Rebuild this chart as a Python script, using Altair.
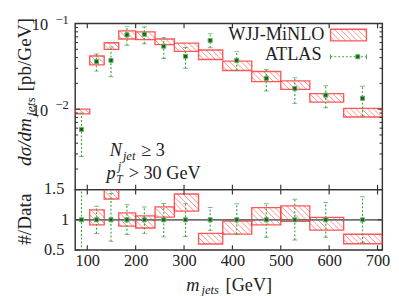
import altair as alt
import numpy as np
import pandas as pd

# ---------------- data ----------------
bin_lo = [75, 105, 135, 165, 200, 240, 280, 330, 380, 440, 500, 560, 630]
bin_hi = [105, 135, 165, 200, 240, 280, 330, 380, 440, 500, 560, 630, 710]
minlo_lo = [0.0088, 0.0329, 0.0499, 0.0660, 0.0649, 0.0567, 0.0474, 0.0380, 0.0283, 0.0210, 0.0170, 0.0121, 0.0081]
minlo_hi = [0.0100, 0.0418, 0.0597, 0.0822, 0.0800, 0.0660, 0.0591, 0.0491, 0.0364, 0.0275, 0.0214, 0.0152, 0.0102]
atlas_x = [88, 119, 149, 182, 218, 258, 303, 354, 409, 470, 529, 593, 669]
atlas_y = [0.0058, 0.0359, 0.0371, 0.0737, 0.0750, 0.0543, 0.0414, 0.0633, 0.0371, 0.0229, 0.0174, 0.0146, 0.0134]
atlas_lo = [0.0028, 0.0278, 0.0239, 0.0557, 0.0582, 0.0390, 0.0300, 0.0520, 0.0283, 0.0163, 0.0116, 0.0104, 0.0083]
atlas_hi = [0.0090, 0.0440, 0.0533, 0.0920, 0.0910, 0.0689, 0.0525, 0.0762, 0.0470, 0.0290, 0.0233, 0.0188, 0.0185]

x_ticks = [100, 200, 300, 400, 500, 600, 700]
y_major = [0.01, 0.1]
y_minor = [0.002, 0.003, 0.004, 0.005, 0.006, 0.007, 0.008, 0.009,
           0.02, 0.03, 0.04, 0.05, 0.06, 0.07, 0.08, 0.09]
ylab_vals = [0.1, 0.01]
ylab_base = ["10", "10"]
ylab_exp = ["\u22121", "\u22122"]
ratio_ticks = [0.5, 1.0, 1.5]
ratio_lab_outer = [0.5, 1.5]
ratio_lab_outer_txt = ["0.5", "1.5"]
ratio_lab_inner = [1.0]
ratio_lab_inner_txt = ["1"]

# ---------------- layout / style ----------------
W, HT, HR = 320, 173, 63
X_DOM = [75, 710]
YT_DOM = [0.00115, 0.1]
YR_DOM = [0.5, 1.5]
LEFT_ABS = 67.3
MID_ABS = 187.7
TOP_ABS = MID_ABS - HT

FONT = "Liberation Serif"
TXT = "#222222"
AXC = "#333333"
RED = "#ff3b3b"
HATCH = "#ff8c8c"
GREEN = "#3f9f3f"
PT_FILL = "#1e5e1e"
PT_STROKE = "#62b862"


def rx(a):
    return a - LEFT_ABS


def ry(a):
    return a - TOP_ABS


def rb(a):
    return a - MID_ABS


XS = alt.Scale(domain=X_DOM, nice=False, zero=False)
YTS = alt.Scale(type="log", domain=YT_DOM, nice=False)
YRS = alt.Scale(domain=YR_DOM, nice=False, zero=False)

GEV_PER_PX = (X_DOM[1] - X_DOM[0]) / W
PX_PER_DEC = HT / (np.log10(YT_DOM[1]) - np.log10(YT_DOM[0]))
PX_PER_RATIO = HR / (YR_DOM[1] - YR_DOM[0])


def clipped_lines(xlo, xhi, ys, ye, d, step, anchor=0.0):
    """diagonal lines going from (x0, ys) to (x0+d, ye), clipped to [xlo, xhi]"""
    out = []
    k0 = int(np.floor((xlo - d - anchor) / step))
    k1 = int(np.ceil((xhi - anchor) / step))
    for k in range(k0, k1 + 1):
        x0 = anchor + k * step
        xa, ya, xb, yb = x0, ys, x0 + d, ye
        if xa < xlo:
            f = (xlo - x0) / d
            xa, ya = xlo, ys + f * (ye - ys)
        if xb > xhi:
            f = (xhi - x0) / d
            xb, yb = xhi, ys + f * (ye - ys)
        if xb - xa > 0.3 * step / 6:
            out.append((xa, ya, xb, yb))
    return out


# boxes
box_top = pd.DataFrame({"xlo": bin_lo, "xhi": bin_hi, "lo": minlo_lo, "hi": minlo_hi})
ratio_lo = [a / d for a, d in zip(minlo_lo, atlas_y)]
ratio_hi = [a / d for a, d in zip(minlo_hi, atlas_y)]
box_rat = pd.DataFrame({"xlo": bin_lo, "xhi": bin_hi, "lo": ratio_lo, "hi": ratio_hi})

# hatching built from the box arrays
rows = []
step = 6 * GEV_PER_PX
for xl, xh, lo, hi in zip(bin_lo, bin_hi, minlo_lo, minlo_hi):
    tl, th = np.log10(lo), np.log10(hi)
    d = (th - tl) * PX_PER_DEC * GEV_PER_PX
    for xa, ya, xb, yb in clipped_lines(xl, xh, th, tl, d, step):
        rows.append({"x1": xa, "y1": 10 ** ya, "x2": xb, "y2": 10 ** yb})
hatch_top = pd.DataFrame(rows)

rows = []
for xl, xh, lo, hi in zip(bin_lo, bin_hi, ratio_lo, ratio_hi):
    d = (hi - lo) * PX_PER_RATIO * GEV_PER_PX
    for xa, ya, xb, yb in clipped_lines(xl, xh, hi, lo, d, step):
        rows.append({"x1": xa, "y1": ya, "x2": xb, "y2": yb})
hatch_rat = pd.DataFrame(rows)

pts_top = pd.DataFrame({"x": atlas_x, "y": atlas_y, "lo": atlas_lo, "hi": atlas_hi})
pts_rat = pd.DataFrame({"x": atlas_x,
                        "y": [1.0] * len(atlas_x),
                        "lo": [l / d for l, d in zip(atlas_lo, atlas_y)],
                        "hi": [h / d for h, d in zip(atlas_hi, atlas_y)]})

one = pd.DataFrame({"k": [0]})


def txt(text, x, y, size=19, italic=False, align="left", baseline="alphabetic", angle=None):
    kw = dict(text=text, align=align, baseline=baseline, font=FONT, fontSize=size, color=TXT)
    if italic:
        kw["fontStyle"] = "italic"
    if angle is not None:
        kw["angle"] = angle
    return alt.Chart(one).mark_text(**kw).encode(x=alt.value(x), y=alt.value(y))


def prule(x1, y1, x2, y2, color, width=1.0, dash=None):
    kw = dict(color=color, strokeWidth=width)
    if dash:
        kw["strokeDash"] = dash
    return alt.Chart(one).mark_rule(**kw).encode(
        x=alt.value(x1), y=alt.value(y1), x2=alt.value(x2), y2=alt.value(y2))


def panel_layers(box_df, hatch_df, pts_df, yscale, xaxis, H):
    X = lambda f: alt.X(f"{f}:Q", scale=XS, axis=xaxis)
    Y = lambda f: alt.Y(f"{f}:Q", scale=yscale, axis=None)
    L = []
    L.append(alt.Chart(hatch_df).mark_rule(color=HATCH, strokeWidth=1, clip=True).encode(
        x=X("x1"), x2="x2", y=Y("y1"), y2="y2"))
    L.append(alt.Chart(box_df).mark_rect(fillOpacity=0, stroke=RED, strokeWidth=1.4,
                                         strokeOpacity=0.85, clip=True).encode(
        x=X("xlo"), x2="xhi", y=Y("lo"), y2="hi"))
    return L


def data_layers(pts_df, yscale, xaxis):
    X = lambda f: alt.X(f"{f}:Q", scale=XS, axis=xaxis)
    Y = lambda f: alt.Y(f"{f}:Q", scale=yscale, axis=None)
    L = []
    L.append(alt.Chart(pts_df).mark_rule(color=GREEN, strokeWidth=1.2, strokeDash=[2, 2], clip=True).encode(
        x=X("x"), y=Y("lo"), y2="hi"))
    for f in ["lo", "hi"]:
        L.append(alt.Chart(pts_df).mark_tick(orient="horizontal", size=5, thickness=1,
                                             color=GREEN, clip=True).encode(x=X("x"), y=Y(f)))
    L.append(alt.Chart(pts_df).mark_square(size=18, color=PT_FILL, stroke=PT_STROKE,
                                           strokeWidth=1, opacity=1, clip=True).encode(
        x=X("x"), y=Y("y")))
    return L


def xtick_layers(H, xaxis):
    df = pd.DataFrame({"t": x_ticks})
    X = alt.X("t:Q", scale=XS, axis=xaxis)
    return [
        alt.Chart(df).mark_rule(color=AXC, strokeWidth=1.2).encode(x=X, y=alt.value(H), y2=alt.value(H - 5)),
        alt.Chart(df).mark_rule(color=AXC, strokeWidth=1.2).encode(x=X, y=alt.value(0), y2=alt.value(5)),
    ]


def ytick_layers(vals, yscale, size):
    df = pd.DataFrame({"v": vals})
    Y = alt.Y("v:Q", scale=yscale, axis=None)
    return [
        alt.Chart(df).mark_rule(color=AXC, strokeWidth=1.1).encode(y=Y, x=alt.value(0), x2=alt.value(size)),
        alt.Chart(df).mark_rule(color=AXC, strokeWidth=1.1).encode(y=Y, x=alt.value(W), x2=alt.value(W - size)),
    ]


# ---------------- top panel ----------------
top_layers = []
top_layers += panel_layers(box_top, hatch_top, pts_top, YTS, None, HT)
top_layers += data_layers(pts_top, YTS, None)
top_layers += xtick_layers(HT, None)
top_layers += ytick_layers(y_major, YTS, 5)
top_layers += ytick_layers(y_minor, YTS, 3)

lab_df = pd.DataFrame({"v": ylab_vals, "b": ylab_base, "e": ylab_exp})
top_layers.append(alt.Chart(lab_df).mark_text(align="right", baseline="middle", font=FONT,
                                              fontSize=17, color=TXT, dy=2).encode(
    y=alt.Y("v:Q", scale=YTS, axis=None), x=alt.value(rx(39)), text="b:N"))
top_layers.append(alt.Chart(lab_df).mark_text(align="right", baseline="middle", font=FONT,
                                              fontSize=13, color=TXT, dy=-4).encode(
    y=alt.Y("v:Q", scale=YTS, axis=None), x=alt.value(rx(60.5)), text="e:N"))

# y title (rotated)
top_layers.append(txt("d\u03c3/dm", rx(21.5), ry(163), size=20, italic=True, angle=270))
top_layers.append(txt("jets", rx(25.5), ry(111), size=14, italic=True, angle=270))
top_layers.append(txt("[pb/GeV]", rx(21.5), ry(9), size=20, align="right", angle=270))

# legend
top_layers.append(txt("WJJ-MiNLO", rx(327), ry(26), align="right", baseline="middle"))
top_layers.append(txt("ATLAS", rx(324), ry(46.7), align="right", baseline="middle"))
lx1, lx2, ly1, ly2 = rx(333.3), rx(370.7), ry(20.7), ry(32.7)
for xa, ya, xb, yb in clipped_lines(lx1, lx2, ly1, ly2, ly2 - ly1, 6.0):
    top_layers.append(prule(xa, ya, xb, yb, HATCH, 1.0))
top_layers.append(alt.Chart(one).mark_rect(fillOpacity=0, stroke=RED, strokeWidth=1.4, strokeOpacity=0.85).encode(
    x=alt.value(lx1), x2=alt.value(lx2), y=alt.value(ly1), y2=alt.value(ly2)))
ay = ry(49.3)
top_layers.append(prule(rx(333.3), ay, rx(370.7), ay, GREEN, 1.2, [2, 2]))
top_layers.append(prule(rx(333.3), ay - 2.5, rx(333.3), ay + 2.5, GREEN, 1.0))
top_layers.append(prule(rx(370.7), ay - 2.5, rx(370.7), ay + 2.5, GREEN, 1.0))
top_layers.append(alt.Chart(one).mark_square(size=18, color=PT_FILL, stroke=PT_STROKE, strokeWidth=1, opacity=1).encode(
    x=alt.value(rx(361.7)), y=alt.value(ay)))

# annotations
top_layers.append(txt("N", rx(103.3), ry(153), italic=True))
top_layers.append(txt("jet", rx(117), ry(156.5), size=13, italic=True))
top_layers.append(txt("\u2265 3", rx(136), ry(153)))
top_layers.append(txt("p", rx(100), ry(176.7), italic=True))
top_layers.append(txt("T", rx(110), ry(181), size=12, italic=True))
top_layers.append(txt("j", rx(112), ry(167), size=12, italic=True))
top_layers.append(txt("> 30 GeV", rx(123), ry(176.7)))

top = alt.layer(*top_layers).properties(width=W, height=HT)

# ---------------- ratio panel ----------------
X_AXIS_B = alt.Axis(values=x_ticks, format="d", ticks=False, domain=False, grid=False,
                    labelPadding=3, labelFont=FONT, labelFontSize=17, labelColor=TXT, title=None)

bot_layers = []
bot_layers += panel_layers(box_rat, hatch_rat, pts_rat, YRS, X_AXIS_B, HR)
bot_layers.append(alt.Chart(pd.DataFrame({"one": [1.0]})).mark_rule(color="#707070", strokeWidth=1.8).encode(
    y=alt.Y("one:Q", scale=YRS, axis=None)))
bot_layers += data_layers(pts_rat, YRS, X_AXIS_B)
bot_layers += xtick_layers(HR, X_AXIS_B)
bot_layers += ytick_layers(ratio_ticks, YRS, 5)

rl = pd.DataFrame({"v": ratio_lab_outer, "t": ratio_lab_outer_txt})
bot_layers.append(alt.Chart(rl).mark_text(align="right", baseline="middle", font=FONT, fontSize=17, color=TXT).encode(
    y=alt.Y("v:Q", scale=YRS, axis=None), x=alt.value(rx(56)), text="t:N"))
rl2 = pd.DataFrame({"v": ratio_lab_inner, "t": ratio_lab_inner_txt})
bot_layers.append(alt.Chart(rl2).mark_text(align="right", baseline="middle", font=FONT, fontSize=17, color=TXT).encode(
    y=alt.Y("v:Q", scale=YRS, axis=None), x=alt.value(rx(61)), text="t:N"))

bot_layers.append(txt("#/Data", rx(21.5), rb(218.5), size=20, align="center", angle=270))
bot_layers.append(txt("m", rx(183), rb(293), italic=True))
bot_layers.append(txt("jets", rx(199), rb(296.5), size=13, italic=True))
bot_layers.append(txt("[GeV]", rx(224), rb(293)))

bottom = alt.layer(*bot_layers).properties(width=W, height=HR)

chart = alt.vconcat(top, bottom, spacing=0, bounds="flush").properties(
    padding={"left": 7, "top": -1, "right": 0, "bottom": 0}
).configure_view(stroke=AXC, strokeWidth=1.5)

chart.save("out.html", embed_options={"renderer": "svg", "actions": False})
